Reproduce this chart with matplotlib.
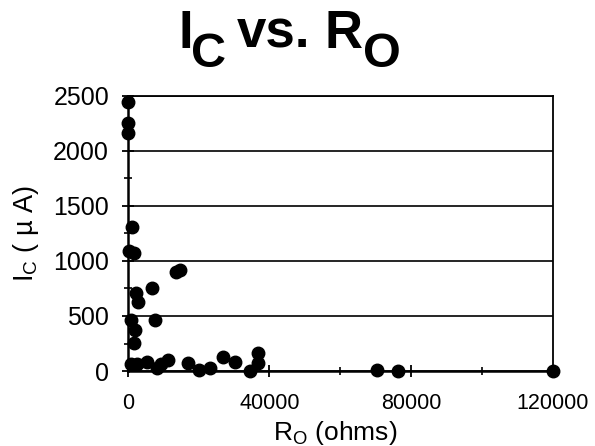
import matplotlib
matplotlib.use("Agg")
import matplotlib.pyplot as plt
from matplotlib.ticker import MultipleLocator

plt.rcParams['font.family'] = ['Liberation Sans', 'DejaVu Sans']
plt.rcParams['mathtext.fontset'] = 'custom'
plt.rcParams['mathtext.rm'] = 'Liberation Sans'
plt.rcParams['mathtext.bf'] = 'Liberation Sans:bold'

# Ro (ohms) et Ic (uA)
ro = [100, 100, 150, 1270, 420, 1660, 13580, 14700, 2310, 2960, 6900,
      900, 7660, 1940, 1830, 900, 2680, 5320, 8140, 9270, 11240, 16960,
      19970, 23150, 26900, 30200, 34620, 36870, 36870, 70400, 76400, 120000]
ic = [2441, 2250, 2159, 1307, 1088, 1070, 897, 918, 705, 629, 754,
      462, 462, 377, 255, 61, 61, 82, 30, 67, 103, 76,
      12, 30, 130, 85, 3, 167, 76, 6, 2, 0]

fig = plt.figure(figsize=(5.95, 4.46), dpi=100)
ax = fig.add_axes([0.2148, 0.168, 0.7142, 0.6174])

ax.plot(ro, ic, 'o', color='black', markersize=9, clip_on=False, zorder=5)

ax.set_xlim(0, 120000)
ax.set_ylim(0, 2500)
ax.xaxis.set_major_locator(MultipleLocator(40000))
ax.xaxis.set_minor_locator(MultipleLocator(20000))
ax.yaxis.set_major_locator(MultipleLocator(500))
ax.yaxis.set_minor_locator(MultipleLocator(250))

ax.grid(axis='y', which='major', color='black', linewidth=1.2)
ax.set_axisbelow(True)

for s in ['left', 'bottom']:
    ax.spines[s].set_linewidth(1.8)
ax.spines['right'].set_linewidth(1.3)
ax.spines['top'].set_linewidth(1.3)

ax.tick_params(axis='both', which='major', direction='inout', length=9,
               width=1.3, colors='black')
ax.tick_params(axis='both', which='minor', direction='inout', length=6, width=1.2)
ax.tick_params(axis='x', which='major', pad=11, labelsize=15.5)
ax.tick_params(axis='y', which='major', pad=9, labelsize=18)

ax.set_xlabel(r'R$_\mathregular{O}$ (ohms)', fontsize=19)
ax.set_ylabel(r'I$_\mathregular{C}$ ( µ A)', fontsize=19.5)
ax.xaxis.set_label_coords(0.487, -0.175)
ax.yaxis.set_label_coords(-0.205, 0.5)

# titre : morceaux séparés, indices presque aussi grands que le texte
base_y = 1 - 48 / 446
sub_y = 1 - 67 / 446
fig.text(178.5 / 595, base_y, 'I', fontsize=38, fontweight='bold', va='baseline')
fig.text(191 / 595, sub_y, 'C', fontsize=35, fontweight='bold', va='baseline')
fig.text(237 / 595, base_y, 'vs.', fontsize=38, fontweight='bold', va='baseline')
fig.text(325 / 595, base_y, 'R', fontsize=38, fontweight='bold', va='baseline')
fig.text(363 / 595, sub_y, 'O', fontsize=35, fontweight='bold', va='baseline')

fig.savefig('out.png', dpi=100)
